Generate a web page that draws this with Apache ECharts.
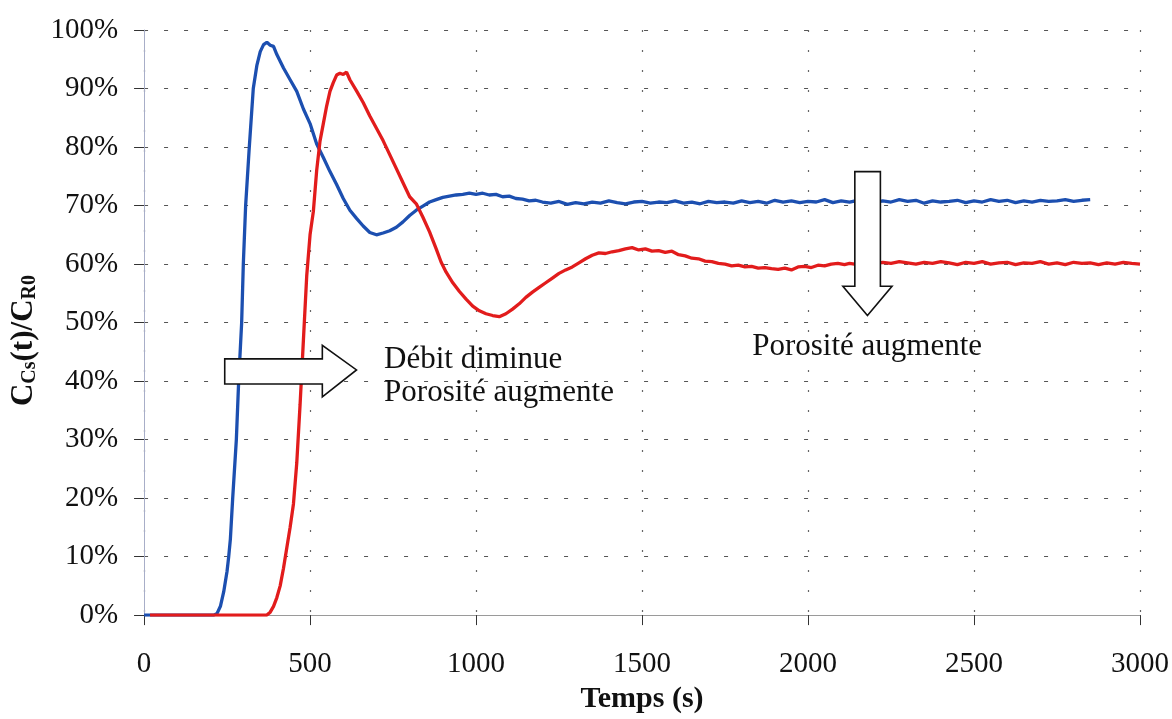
<!DOCTYPE html>
<html>
<head>
<meta charset="utf-8">
<script src="https://cdn.jsdelivr.net/npm/echarts@6/dist/echarts.min.js"></script>
<style>
html,body{margin:0;padding:0;background:#fff;}
#chart{width:1172px;height:719px;}
</style>
</head>
<body>
<div id="chart"></div>
<script>
// ---- data (time in s, concentration ratio in %) ----
var blueTime = [0,100,210,220,230,240,250,255,260,267,278,285,294,299,306,317,329,340,350,360,370,380,390,400,420,440,460,480,500,520,540,560,580,600,620,640,660,680,700,720,740,760,780,800,820,840,860,880,900,920,940,960,980,1000,1020,1040,1060,1080,1100,1120,1140,1160,1180,
1200,1225,1250,1275,1300,1325,1350,1375,1400,1425,1450,1475,1500,1525,1550,1575,1600,1625,1650,1675,1700,1725,1750,1775,1800,1825,1850,1875,1900,1925,1950,1975,2000,2025,2050,2075,2100,2125,2150,2175,2200,2225,2250,2275,2300,2325,2350,2375,2400,2425,2450,2475,2500,2525,2550,2575,2600,2625,2650,2675,2700,2725,2750,2775,2800,2825,2850];
var blueValue = [0,0,0,0.3,1.5,4,7.5,10,13,20,30,40,50,60,70,80,90,94,96.3,97.5,97.9,97.4,97.2,95.8,93.5,91.5,89.5,86.5,84,80.5,78.2,75.8,73.6,71.2,69.2,67.8,66.5,65.4,65.0,65.3,65.7,66.3,67.2,68.3,69.2,69.9,70.6,71.0,71.4,71.6,71.8,71.9,72.1,71.9,72.1,71.8,71.9,71.5,71.6,71.2,71.1,70.8,70.9,
70.6,70.4,70.7,70.2,70.5,70.3,70.6,70.4,70.8,70.5,70.3,70.6,70.7,70.4,70.6,70.5,70.8,70.4,70.6,70.3,70.7,70.5,70.6,70.4,70.8,70.5,70.7,70.4,70.9,70.6,70.8,70.5,70.7,70.6,71.0,70.5,70.8,70.6,70.9,70.7,70.5,70.8,70.6,71.0,70.7,70.9,70.4,70.8,70.6,70.7,70.9,70.5,70.8,70.6,71.0,70.7,70.9,70.5,70.8,70.6,70.9,70.7,70.8,71.0,70.7,70.9,71.0];

var redTime = [18,100,200,300,370,380,390,400,410,420,430,440,450,460,470,480,490,500,510,520,530,540,550,560,570,580,590,600,610,620,640,660,680,700,720,740,760,780,800,820,840,860,880,895,910,930,950,970,990,1010,1030,1050,1070,1090,1110,1130,1150,1170,1190,1210,1230,1250,1270,1290,1310,1330,1350,1370,1390,1410,1430,1450,1470,1490,1510,1530,1550,1570,1590,1610,1630,1650,1670,1690,1710,1730,1750,1770,1790,1810,1830,1850,1870,1890,1910,1930,1950,1970,1990,2010,2030,2050,2070,2090,2110,
2125,2150,2175,2200,2225,2250,2275,2300,2325,2350,2375,2400,2425,2450,2475,2500,2525,2550,2575,2600,2625,2650,2675,2700,2725,2750,2775,2800,2825,2850,2875,2900,2925,2950,2975,3000];
var redValue = [0,0,0,0,0,0.5,1.5,3,5,8,11.5,15,19,26,36,47,58,65,69,76,81,84,87,89.5,91,92.3,92.6,92.4,92.8,91.5,89.6,87.6,85.3,83.2,81.1,78.7,76.3,73.9,71.5,70.3,68.0,65.5,62.6,60.3,58.6,56.8,55.3,54.0,52.8,52,51.5,51.2,51.0,51.5,52.3,53.2,54.3,55.2,56,56.8,57.6,58.4,59,59.5,60.2,60.9,61.5,61.9,61.8,62.1,62.3,62.6,62.8,62.4,62.6,62.2,62.3,62.0,62.2,61.6,61.4,61.0,60.9,60.5,60.4,60.1,60.0,59.7,59.8,59.5,59.6,59.3,59.4,59.2,59.1,59.3,59.0,59.5,59.6,59.4,59.8,59.7,60.0,60.1,59.9,
60.1,59.9,60.2,60.0,60.3,60.1,60.4,60.2,60.0,60.3,60.1,60.4,60.2,59.9,60.3,60.1,60.4,60.0,60.2,60.3,59.9,60.2,60.1,60.4,60.0,60.2,59.9,60.3,60.1,60.2,59.9,60.2,60.0,60.3,60.1,60.0];

var xTicks = {min: 0, max: 3000, step: 500};
var yTicks = {min: 0, max: 100, step: 10};

var annoText1 = ['Débit diminue', 'Porosité augmente'];
var annoText2 = 'Porosité augmente';

function pairs(t, v) { return t.map(function (x, i) { return [x, v[i]]; }); }

var FONT = '"Liberation Serif", "Times New Roman", serif';
var chart = echarts.init(document.getElementById('chart'), null, {renderer: 'canvas'});

chart.setOption({
  backgroundColor: '#ffffff',
  animation: false,
  grid: {left: 129, right: 31, top: 30, bottom: 98, containLabel: false},
  xAxis: {
    type: 'value', min: xTicks.min, max: xTicks.max, interval: xTicks.step,
    name: 'Temps (s)', nameLocation: 'middle', nameGap: 66,
    nameTextStyle: {fontFamily: FONT, fontSize: 30, fontWeight: 'bold', color: '#111'},
    axisLine: {show: true, onZero: false, lineStyle: {color: '#9a9a9a', width: 1}},
    axisTick: {show: true, length: 10, inside: false, lineStyle: {color: '#333'}},
    axisLabel: {fontFamily: FONT, fontSize: 29, color: '#111', margin: 35,
      formatter: function (v) { return String(v); }},
    splitLine: {show: true, lineStyle: {color: '#666', width: 1.2, type: [2, 18]}}
  },
  yAxis: {
    type: 'value', min: yTicks.min, max: yTicks.max, interval: yTicks.step,
    name: '{b|C}{s|Cs}{b|(t)/C}{s|R0}', nameLocation: 'middle', nameGap: 88,
    nameTextStyle: {
      fontFamily: FONT, fontWeight: 'bold', color: '#111', padding: [0, 36, 0, 0],
      rich: {
        b: {fontFamily: FONT, fontSize: 31, fontWeight: 'bold', color: '#111', lineHeight: 32},
        s: {fontFamily: FONT, fontSize: 20, fontWeight: 'bold', color: '#111', lineHeight: 15, verticalAlign: 'bottom'}
      }
    },
    axisLine: {show: true, onZero: false, lineStyle: {color: '#a8aec8', width: 1}},
    axisTick: {show: true, length: 10, inside: false, lineStyle: {color: '#333'}},
    axisLabel: {fontFamily: FONT, fontSize: 29, color: '#111', margin: 26, formatter: '{value}%'},
    splitLine: {show: true, lineStyle: {color: '#555', width: 1.2, type: [4, 16]}}
  },
  series: [
    {name: 'blue', type: 'line', data: pairs(blueTime, blueValue), showSymbol: false, smooth: false,
     lineStyle: {color: '#1c4fb0', width: 3.3}, z: 3},
    {name: 'red', type: 'line', data: pairs(redTime, redValue), showSymbol: false, smooth: false,
     lineStyle: {color: '#e21c1c', width: 3.3}, z: 4}
  ]
});

// annotations anchored in data coordinates
function px(t, v) { return chart.convertToPixel({gridIndex: 0}, [t, v]); }
var rightArrow = [[243, 43.8], [537, 43.8], [537, 46.1], [640, 41.9], [537, 37.3], [537, 39.5], [243, 39.5]].map(function (p) { return px(p[0], p[1]); });
var downArrow = [[2141, 75.8], [2218, 75.8], [2218, 56.2], [2253, 56.2], [2179, 51.2], [2105, 56.2], [2141, 56.2]].map(function (p) { return px(p[0], p[1]); });
var t1 = px(723, 43.6), t2 = px(723, 38.0), t3 = px(1832, 45.8);

chart.setOption({
  graphic: [
    {type: 'polygon', shape: {points: rightArrow}, style: {fill: '#fff', stroke: '#111', lineWidth: 1.6}, z: 10},
    {type: 'polygon', shape: {points: downArrow}, style: {fill: '#fff', stroke: '#111', lineWidth: 1.6}, z: 10},
    {type: 'text', x: t1[0], y: t1[1], style: {text: annoText1[0], font: '31px ' + FONT, fill: '#111', align: 'left', verticalAlign: 'middle'}, z: 11},
    {type: 'text', x: t2[0], y: t2[1], style: {text: annoText1[1], font: '31px ' + FONT, fill: '#111', align: 'left', verticalAlign: 'middle'}, z: 11},
    {type: 'text', x: t3[0], y: t3[1], style: {text: annoText2, font: '31px ' + FONT, fill: '#111', align: 'left', verticalAlign: 'middle'}, z: 11}
  ]
});
</script>
</body>
</html>
